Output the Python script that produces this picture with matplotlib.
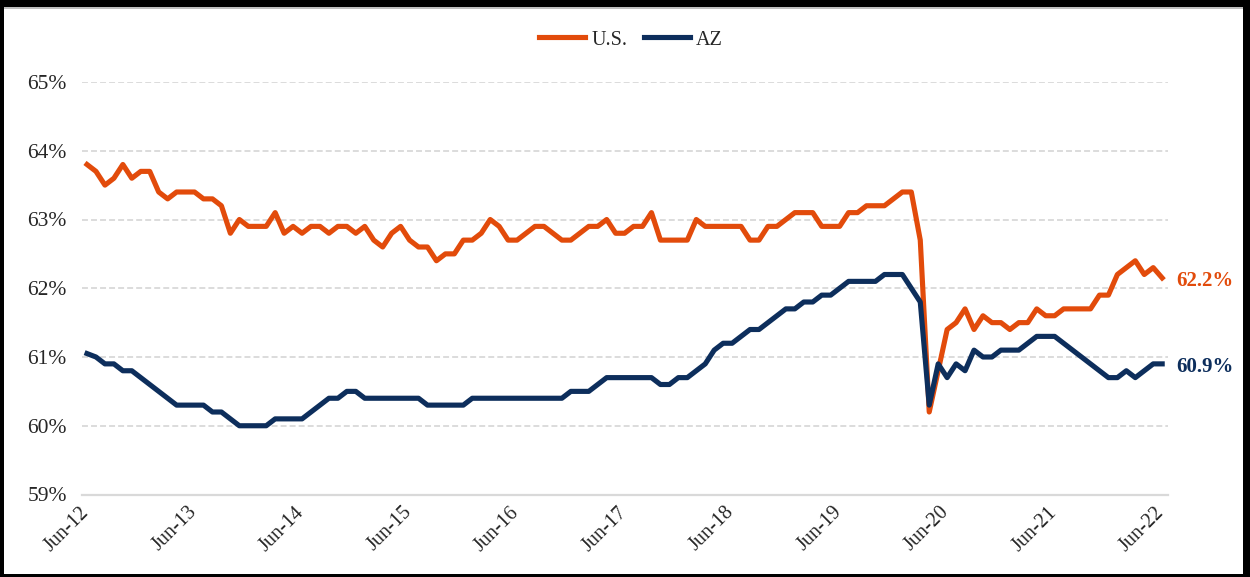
import numpy as np
import matplotlib.pyplot as plt
import matplotlib.transforms as mtransforms
from matplotlib.patches import Rectangle
from matplotlib.lines import Line2D

# monthly labour force participation rate, Jun-12 .. Jun-22
tick_labels = ["Jun-12", "Jun-13", "Jun-14", "Jun-15", "Jun-16", "Jun-17",
               "Jun-18", "Jun-19", "Jun-20", "Jun-21", "Jun-22"]

us = [63.8, 63.7, 63.5, 63.6, 63.8, 63.6, 63.7, 63.7, 63.4, 63.3, 63.4, 63.4,
      63.4, 63.3, 63.3, 63.2, 62.8, 63.0, 62.9, 62.9, 62.9, 63.1, 62.8, 62.9,
      62.8, 62.9, 62.9, 62.8, 62.9, 62.9, 62.8, 62.9, 62.7, 62.6, 62.8, 62.9,
      62.7, 62.6, 62.6, 62.4, 62.5, 62.5, 62.7, 62.7, 62.8, 63.0, 62.9, 62.7,
      62.7, 62.8, 62.9, 62.9, 62.8, 62.7, 62.7, 62.8, 62.9, 62.9, 63.0, 62.8,
      62.8, 62.9, 62.9, 63.1, 62.7, 62.7, 62.7, 62.7, 63.0, 62.9, 62.9, 62.9,
      62.9, 62.9, 62.7, 62.7, 62.9, 62.9, 63.0, 63.1, 63.1, 63.1, 62.9, 62.9,
      62.9, 63.1, 63.1, 63.2, 63.2, 63.2, 63.3, 63.4, 63.4, 62.7, 60.2, 60.8,
      61.4, 61.5, 61.7, 61.4, 61.6, 61.5, 61.5, 61.4, 61.5, 61.5, 61.7, 61.6,
      61.6, 61.7, 61.7, 61.7, 61.7, 61.9, 61.9, 62.2, 62.3, 62.4, 62.2, 62.3,
      62.15]

az = [61.05, 61.0, 60.9, 60.9, 60.8, 60.8, 60.7, 60.6, 60.5, 60.4, 60.3, 60.3,
      60.3, 60.3, 60.2, 60.2, 60.1, 60.0, 60.0, 60.0, 60.0, 60.1, 60.1, 60.1,
      60.1, 60.2, 60.3, 60.4, 60.4, 60.5, 60.5, 60.4, 60.4, 60.4, 60.4, 60.4,
      60.4, 60.4, 60.3, 60.3, 60.3, 60.3, 60.3, 60.4, 60.4, 60.4, 60.4, 60.4,
      60.4, 60.4, 60.4, 60.4, 60.4, 60.4, 60.5, 60.5, 60.5, 60.6, 60.7, 60.7,
      60.7, 60.7, 60.7, 60.7, 60.6, 60.6, 60.7, 60.7, 60.8, 60.9, 61.1, 61.2,
      61.2, 61.3, 61.4, 61.4, 61.5, 61.6, 61.7, 61.7, 61.8, 61.8, 61.9, 61.9,
      62.0, 62.1, 62.1, 62.1, 62.1, 62.2, 62.2, 62.2, 62.0, 61.8, 60.3, 60.9,
      60.7, 60.9, 60.8, 61.1, 61.0, 61.0, 61.1, 61.1, 61.1, 61.2, 61.3, 61.3,
      61.3, 61.2, 61.1, 61.0, 60.9, 60.8, 60.7, 60.7, 60.8, 60.7, 60.8, 60.9,
      60.9]

end_labels = ["62.2%", "60.9%"]
series_names = ["U.S.", "AZ"]

ORANGE = "#E24B0B"
NAVY = "#0D2E5C"
GRID = "#D9D9D9"
TEXT = "#262626"

plt.rcParams["font.family"] = ["Liberation Serif", "DejaVu Serif"]

W, H = 1250, 577
fig = plt.figure(figsize=(W / 100, H / 100), dpi=100)
ax = fig.add_axes([82 / W, 82.5 / H, 1086 / W, 412.5 / H])

months = np.arange(len(us))
ax.plot(months, us, color=ORANGE, lw=3.7, solid_joinstyle="round", zorder=3)
ax.plot(months, az, color=NAVY, lw=3.7, solid_joinstyle="round", zorder=3)

ax.set_xlim(-0.56, 120.65)
ax.set_ylim(59, 65)
ax.set_yticks(np.arange(59, 66, 1))
ax.set_yticklabels([f"{v:.0f}%" for v in np.arange(59, 66, 1)])
ax.yaxis.grid(True, color=GRID, lw=1.3, linestyle=(0, (3.3, 1.7)))
ax.set_axisbelow(True)

for s in ["left", "right", "top"]:
    ax.spines[s].set_visible(False)
ax.spines["bottom"].set_color(GRID)
ax.spines["bottom"].set_linewidth(1.6)

ax.set_xticks(months[::12])
ax.set_xticklabels(tick_labels, rotation=45, ha="right")
ax.tick_params(axis="both", length=0, colors=TEXT)
ax.tick_params(axis="x", pad=6, labelsize=14.5)
ax.tick_params(axis="y", pad=11, labelsize=15.5)
shift = mtransforms.ScaledTranslation(6 / 100, 0, fig.dpi_scale_trans)
for lab in ax.get_xticklabels():
    lab.set_transform(lab.get_transform() + shift)

# end-of-line value labels
for vals, txt, col in [(us, end_labels[0], ORANGE), (az, end_labels[1], NAVY)]:
    ax.annotate(txt, xy=(months[-1], vals[-1]), xytext=(14, -3),
                textcoords="offset pixels", ha="left", va="center",
                fontsize=15, fontweight="bold", color=col,
                annotation_clip=False)

handles = [Line2D([], [], color=ORANGE, lw=3.7),
           Line2D([], [], color=NAVY, lw=3.7)]
fig.legend(handles, series_names, loc="center", ncol=2,
           bbox_to_anchor=(631 / W, 1 - 40 / H), frameon=False,
           fontsize=14.5, handlelength=2.3, handletextpad=0.3,
           columnspacing=0.8, labelcolor=TEXT)

# black frame around the picture, with a thin grey rule under the top bar
fig.add_artist(Rectangle((0, (H - 9) / H), 1, 2 / H, transform=fig.transFigure,
                         color="#BFBFBF", lw=0))
for x0, y0, w, h in [(0, H - 7, W, 7), (0, 0, 4, H), (W - 7, 0, 7, H), (0, 0, W, 3)]:
    fig.add_artist(Rectangle((x0 / W, y0 / H), w / W, h / H,
                             transform=fig.transFigure, color="black", lw=0))

fig.savefig("out.png", dpi=100)
